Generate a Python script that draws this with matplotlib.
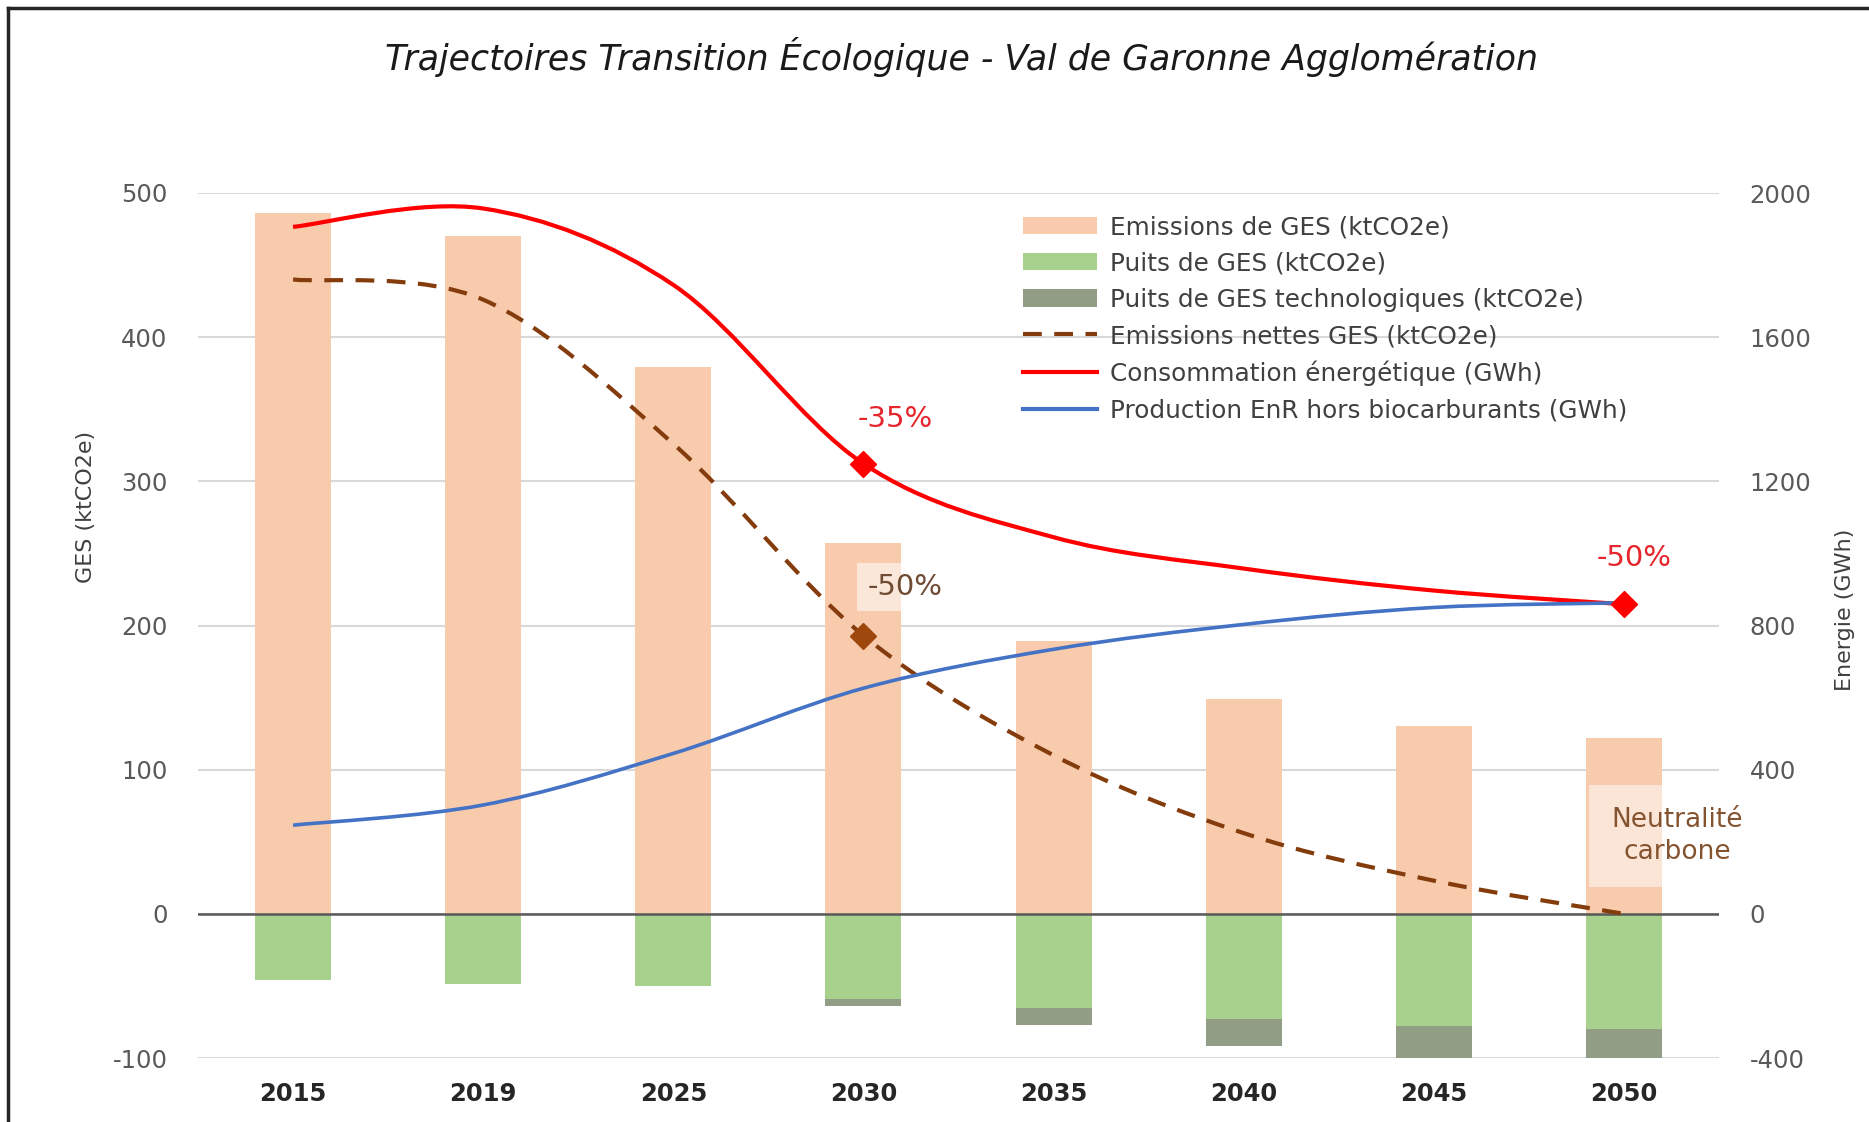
import numpy as np
import matplotlib.pyplot as plt
from matplotlib.path import Path
from matplotlib.patches import PathPatch, Patch
from matplotlib.lines import Line2D

plt.rcParams['axes.unicode_minus'] = False

years = ['2015', '2019', '2025', '2030', '2035', '2040', '2045', '2050']
emissions = [486, 470, 379, 257, 189, 149, 130, 122]        # ktCO2e
puits = [-46, -49, -50, -59, -65, -73, -78, -80]             # ktCO2e
puits_tech = [0, 0, 0, -5, -12, -19, -30, -42]               # ktCO2e
nettes = [440, 426, 326, 193, 110, 56, 23, 0]                # ktCO2e
conso = [1906, 1957, 1745, 1249, 1045, 958, 897, 859]        # GWh
enr = [246, 302, 445, 626, 734, 803, 850, 863]               # GWh

labels = ['Emissions de GES (ktCO2e)', 'Puits de GES (ktCO2e)',
          'Puits de GES technologiques (ktCO2e)', 'Emissions nettes GES (ktCO2e)',
          'Consommation énergétique (GWh)', 'Production EnR hors biocarburants (GWh)']

c_em, c_puits, c_tech = '#F8CBAD', '#A9D18E', '#919D84'
c_net, c_conso, c_enr = '#843C0C', '#FF0000', '#4472C4'


def smooth_path(x, y, t=1/6):
    # excel-like smoothed line: cubic bezier through every point
    x = np.asarray(x, float)
    y = np.asarray(y, float)
    n = len(x)
    verts = [(x[0], y[0])]
    codes = [Path.MOVETO]
    for i in range(n - 1):
        xa, ya = (x[i-1], y[i-1]) if i > 0 else (x[i], y[i])
        xb, yb = (x[i+2], y[i+2]) if i + 2 < n else (x[i+1], y[i+1])
        c1 = (x[i] + (x[i+1] - xa) * t, y[i] + (y[i+1] - ya) * t)
        c2 = (x[i+1] - (xb - x[i]) * t, y[i+1] - (yb - y[i]) * t)
        verts += [c1, c2, (x[i+1], y[i+1])]
        codes += [Path.CURVE4] * 3
    return Path(verts, codes)


W, H = 1869, 1122
fig = plt.figure(figsize=(W/100, H/100), dpi=100)
ax = fig.add_axes([198/W, 1 - 1058/H, 1521/W, 865/H])
xpos = np.arange(len(years))

ax.bar(xpos, emissions, width=0.4, color=c_em, zorder=2)
ax.bar(xpos, puits, width=0.4, color=c_puits, zorder=2)
ax.bar(xpos, puits_tech, width=0.4, bottom=puits, color=c_tech, zorder=2)
ax.axhline(0, color='#595959', lw=1.8, zorder=3)

ax.add_patch(PathPatch(smooth_path(xpos, nettes), fill=False, ec=c_net, lw=3,
                       ls=(0, (4.5, 3)), zorder=4))
ax.plot([3], [nettes[3]], 'D', color='#9E480E', ms=13, zorder=5)

ax.set_xlim(-0.5, 7.5)
ax.set_ylim(-100, 500)
ax.set_yticks(range(-100, 501, 100))
ax.set_xticks(xpos, years, fontsize=17.5, fontweight='bold', color='#262626')
ax.grid(axis='y', color='#D9D9D9', lw=1.5, zorder=0)
ax.set_axisbelow(True)
ax.tick_params(axis='x', length=0, pad=17)
ax.tick_params(axis='y', length=0, pad=22, labelsize=17.5, labelcolor='#595959')
for s in ax.spines.values():
    s.set_visible(False)

ax2 = ax.twinx()
ax2.set_ylim(-400, 2000)
ax2.set_yticks(range(-400, 2001, 400))
ax2.tick_params(axis='y', length=0, pad=22, labelsize=17.5, labelcolor='#595959')
for s in ax2.spines.values():
    s.set_visible(False)

ax2.add_patch(PathPatch(smooth_path(xpos, conso), fill=False, ec=c_conso, lw=3, zorder=3))
ax2.add_patch(PathPatch(smooth_path(xpos, enr), fill=False, ec=c_enr, lw=2.6, zorder=4))
ax2.plot([3, 7], [conso[3], conso[7]], 'D', color=c_conso, ms=13, zorder=5)

ax2.annotate('-35%', (3, conso[3]), xytext=(23, 32), textcoords='offset points',
             ha='center', va='center', fontsize=21, color='#E5242B')
ax2.annotate('-50%', (7, conso[7]), xytext=(7, 33), textcoords='offset points',
             ha='center', va='center', fontsize=21, color='#E5242B')
ax.annotate('-50%', (3, nettes[3]), xytext=(30, 35), textcoords='offset points',
            ha='center', va='center', fontsize=21, color='#6E4B32',
            bbox=dict(boxstyle='square,pad=0.35', fc='white', ec='none', alpha=0.55))
ax.text(7.28, 54, 'Neutralité\ncarbone', ha='center', va='center', fontsize=19,
        color='#84532F', linespacing=1.3,
        bbox=dict(boxstyle='square,pad=0.85', fc='white', ec='none', alpha=0.5), zorder=6)

handles = [Patch(fc=c_em), Patch(fc=c_puits), Patch(fc=c_tech),
           Line2D([], [], color=c_net, lw=3, ls=(0, (4.5, 3))),
           Line2D([], [], color=c_conso, lw=3),
           Line2D([], [], color=c_enr, lw=3)]
leg = ax2.legend(handles, labels, loc='upper left', bbox_to_anchor=(1023/W, 1 - 215/H),
                 bbox_transform=fig.transFigure, frameon=False, fontsize=17.8,
                 handlelength=3.0, handletextpad=0.5, labelspacing=0.5,
                 borderaxespad=0, borderpad=0)
for t in leg.get_texts():
    t.set_color('#404040')

fig.text(961/W, 1 - 57/H, 'Trajectoires Transition Écologique - Val de Garonne Agglomération',
         ha='center', va='center', fontsize=25, style='italic', color='#1A1A1A')
fig.text(86/W, 1 - 507/H, 'GES (ktCO2e)', rotation=90, ha='center', va='center',
         fontsize=16, color='#404040')
fig.text(1845/W, 1 - 610/H, 'Energie (GWh)', rotation=90, ha='center', va='center',
         fontsize=16, color='#404040')

# outer frame of the original picture (top and left edges)
fig.add_artist(Line2D([8/W, 1], [1 - 8/H, 1 - 8/H], transform=fig.transFigure,
                      color='#262626', lw=2.5))
fig.add_artist(Line2D([8/W, 8/W], [0, 1 - 8/H], transform=fig.transFigure,
                      color='#262626', lw=2.5))

fig.savefig('out.png', dpi=100)
